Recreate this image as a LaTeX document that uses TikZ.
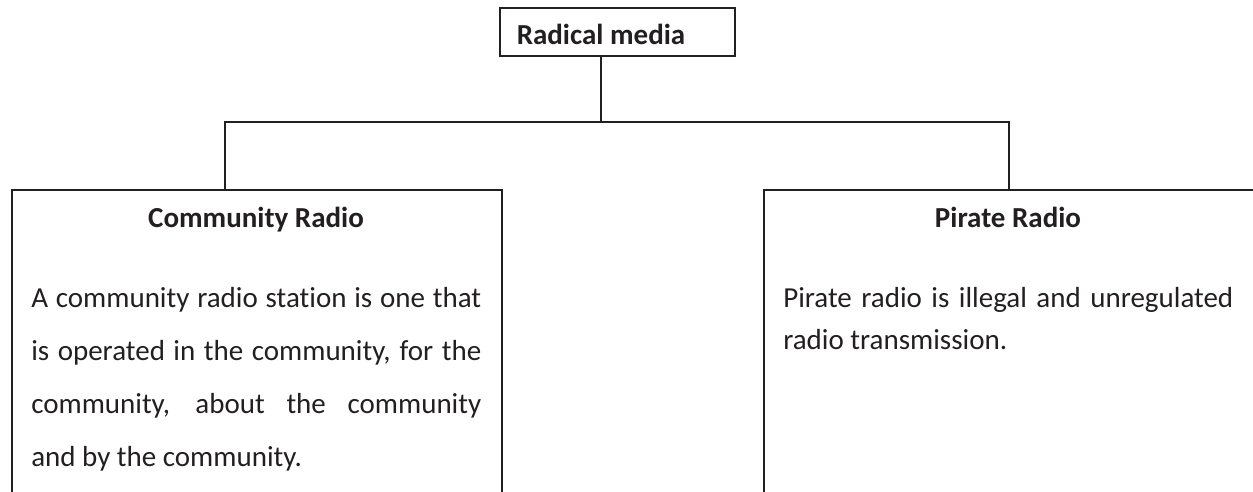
\documentclass[tikz,border=0pt]{standalone}
\usepackage{fontspec}
\setmainfont{Carlito}[Ligatures=NoCommon]
\usetikzlibrary{positioning}
\definecolor{ink}{RGB}{35,31,32}

\begin{document}
\begin{tikzpicture}[x=0.75pt, y=-0.75pt,
    frame/.style = {draw=ink, line width=1.5pt, inner sep=0pt},
    heading/.style = {font=\fontsize{21.75pt}{26pt}\selectfont\bfseries, text=ink, inner sep=0pt, anchor=base},
    body/.style = {font=\fontsize{21.75pt}{39.75pt}\selectfont, text=ink, text width=337.5pt, align=justify, inner sep=0pt, anchor=base west},
    link/.style = {draw=ink, line width=1.5pt}]
    \useasboundingbox (0,0) rectangle (1253,492);
    % top box
    \node[frame, minimum width=176.25pt, minimum height=36pt] (radical) at (617.5,32) {};
    \node[heading] (radicalhead) at (601,45) {Radical media};
    % lower boxes, cut off by the page edge
    \node[frame, anchor=north west, minimum width=367.5pt, minimum height=250pt] (community) at (11,189) {};
    \node[frame, anchor=north west, minimum width=375pt, minimum height=250pt] (pirate) at (763,189) {};
    \node[heading] (communityhead) at (256,227) {Community Radio};
    \node[heading] (piratehead) at (1008,227) {Pirate Radio};
    \node[body] (communitytext) at (31,307) {A community radio station is one that\linebreak is operated in the community, for the\linebreak community, about the community\linebreak and by the community.};
    \node[body, font=\fontsize{21.75pt}{31.5pt}\selectfont] (piratetext) at (783,307) {Pirate radio is illegal and unregulated\linebreak radio transmission.};
    % connectors
    \coordinate (hub) at (601,122);
    \coordinate (leftdrop) at (225,189);
    \coordinate (rightdrop) at (1009,189);
    \draw[link] (radical.south -| hub) -- (hub);
    \draw[link] (leftdrop) |- (hub) -| (rightdrop);
\end{tikzpicture}
\end{document}
